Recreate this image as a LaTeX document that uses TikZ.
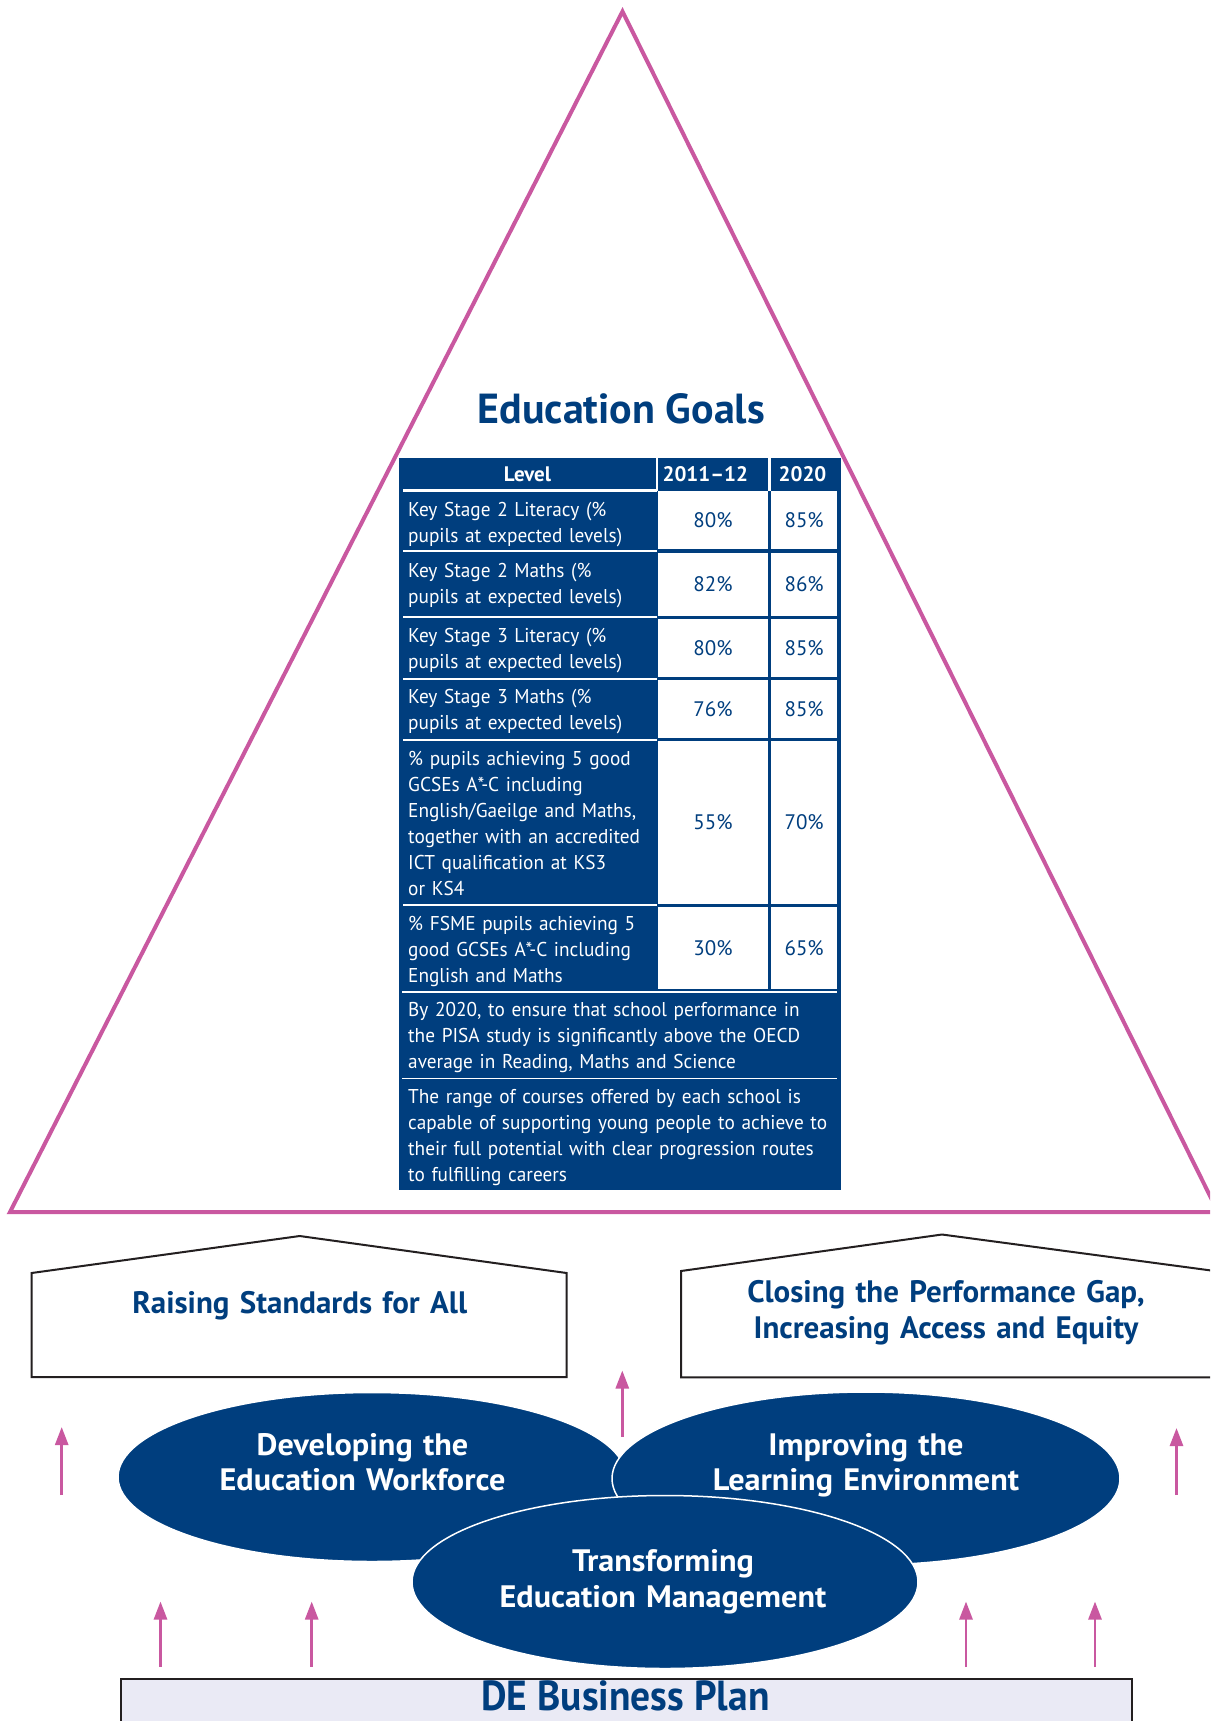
\documentclass[tikz,border=0pt]{standalone}
\usepackage{fontspec}
\setmainfont{PT Sans}
\newfontfamily\tabfont[FakeStretch=0.965]{PT Sans}
\newfontfamily\headfont{PT Sans}
\newfontfamily\ovalfont[FakeStretch=1.04]{PT Sans}
\newfontfamily\planfont[FakeStretch=0.94]{PT Sans}
\usetikzlibrary{arrows.meta,shapes.geometric}
\definecolor{deblue}{RGB}{0,62,126}
\definecolor{demag}{RGB}{201,88,160}
\definecolor{dedark}{RGB}{35,31,32}
\definecolor{delav}{RGB}{234,234,245}
\begin{document}
\begin{tikzpicture}[x=1pt,y=-1pt,
  tri/.style={draw=demag,line width=4pt,line join=miter},
  house/.style={draw=dedark,line width=2pt,fill=white},
  oval/.style={ellipse,fill=deblue,draw=white,line width=1.5pt,inner sep=0pt,outer sep=0pt},
  upar/.style={draw=demag,line width=2.7pt,-{Triangle[width=13pt,length=18pt]}},
  lbl/.style={text=white,font=\tabfont\fontsize{20}{26}\selectfont,anchor=base west,inner sep=0pt,align=left,text width=440pt},
  cell/.style={fill=white,text=deblue,font=\headfont\fontsize{21}{26}\selectfont,inner sep=0pt,outer sep=0pt},
  hdr/.style={text=white,font=\headfont\bfseries\fontsize{21}{24}\selectfont,inner sep=0pt},
  sepl/.style={draw=white,line width=2.2pt},
  htext/.style={text=deblue,font=\headfont\bfseries\fontsize{31}{35.6}\selectfont,anchor=base,inner sep=0pt,align=center,text width=600pt},
  otext/.style={text=white,font=\ovalfont\bfseries\fontsize{31}{35.5}\selectfont,anchor=base,inner sep=0pt,align=center,text width=500pt}
]
\useasboundingbox (0,0) rectangle (1210,1721);
\clip (0,0) rectangle (1210,1721);
\fill[white] (0,0) rectangle (1210,1721);

% pyramid
\coordinate (apex) at (622.5,11.5);
\coordinate (bl) at (10,1212);
\coordinate (br) at (1218,1212);
\draw[tri] (apex) -- (bl) -- (br) -- cycle;
\node[text=deblue,font=\headfont\bfseries\fontsize{42}{50}\selectfont,anchor=base,inner sep=0pt] (title) at (621.4,423.3) {Education Goals};

% table background
\fill[deblue] (399,458) rectangle (841,1190);
% header
\draw[sepl,line width=2pt] (656.7,458) -- (656.7,490.5);
\draw[sepl,line width=2.7pt] (769.6,458) -- (769.6,490.5);
\draw[sepl] (403.3,490.5) -- (656.7,490.5);
\node[hdr] (hlevel) at (527.5,474) {Level};
\node[hdr] (hyear) at (705.3,474) {2011–12};
\node[hdr] (htarget) at (802.5,474) {2020};
% label separators
\draw[sepl] (403.3,551.2) -- (656.7,551.2);
\draw[sepl] (403.3,617) -- (656.7,617);
\draw[sepl] (403.3,678.7) -- (656.7,678.7);
\draw[sepl] (403.3,740) -- (656.7,740);
\draw[sepl] (403.3,904.7) -- (656.7,904.7);
\draw[sepl,line width=1.8pt] (402,991.8) -- (837.3,991.8);
\draw[sepl,line width=1.8pt] (402,1078.5) -- (837.3,1078.5);

% data cells
\node[cell,minimum width=110.6pt,minimum height=58.3pt] (c11) at (713,520.15) {80\%};
\node[cell,minimum width=66.3pt,minimum height=58.3pt] (c12) at (804.15,520.15) {85\%};
\node[cell,minimum width=110.6pt,minimum height=63pt] (c21) at (713,584.2) {82\%};
\node[cell,minimum width=66.3pt,minimum height=63pt] (c22) at (804.15,584.2) {86\%};
\node[cell,minimum width=110.6pt,minimum height=58.3pt] (c31) at (713,648.15) {80\%};
\node[cell,minimum width=66.3pt,minimum height=58.3pt] (c32) at (804.15,648.15) {85\%};
\node[cell,minimum width=110.6pt,minimum height=57.5pt] (c41) at (713,708.75) {76\%};
\node[cell,minimum width=66.3pt,minimum height=57.5pt] (c42) at (804.15,708.75) {85\%};
\node[cell,minimum width=110.6pt,minimum height=163pt] (c51) at (713,822.5) {55\%};
\node[cell,minimum width=66.3pt,minimum height=163pt] (c52) at (804.15,822.5) {70\%};
\node[cell,minimum width=110.6pt,minimum height=82.6pt] (c61) at (713,948) {30\%};
\node[cell,minimum width=66.3pt,minimum height=82.6pt] (c62) at (804.15,948) {65\%};

% labels
\node[lbl] (l1) at (408,516) {Key Stage 2 Literacy (\%\\pupils at expected levels)};
\node[lbl] (l2) at (408,577) {Key Stage 2 Maths (\%\\pupils at expected levels)};
\node[lbl] (l3) at (408,642.7) {Key Stage 3 Literacy (\%\\pupils at expected levels)};
\node[lbl] (l4) at (408,703.3) {Key Stage 3 Maths (\%\\pupils at expected levels)};
\node[lbl] (l5) at (408,765) {\% pupils achieving 5 good\\GCSEs A*-C including\\English/Gaeilge and Maths,\\together with an accredited\\ICT qualification at KS3\\or KS4};
\node[lbl] (l6) at (408,930) {\% FSME pupils achieving 5\\good GCSEs A*-C including\\English and Maths};
\node[lbl] (l7) at (408,1016) {By 2020, to ensure that school performance in\\the PISA study is significantly above the OECD\\average in Reading, Maths and Science};
\node[lbl] (l8) at (408,1103) {The range of courses offered by each school is\\capable of supporting young people to achieve to\\their full potential with clear progression routes\\to fulfilling careers};

% houses
\draw[house] (31.6,1377) -- (31.6,1273) -- (299.7,1236) -- (566.6,1273) -- (566.6,1377) -- cycle;
\draw[house] (681,1377.3) -- (681,1271) -- (942,1234.5) -- (1215,1271) -- (1215,1377.3) -- cycle;
\node[htext] (raise) at (299.7,1313.3) {Raising Standards for All};
\node[htext] (close) at (946,1302.7) {Closing the Performance Gap,\\Increasing Access and Equity};

% arrows
\coordinate (a1s) at (61.7,1495);   \coordinate (a1e) at (61.7,1427);
\coordinate (a2s) at (622.3,1436.5); \coordinate (a2e) at (622.3,1370.5);
\coordinate (a3s) at (1176.5,1495); \coordinate (a3e) at (1176.5,1428);
\coordinate (a4s) at (160.5,1666.7); \coordinate (a4e) at (160.5,1601.5);
\coordinate (a5s) at (311.7,1666.7); \coordinate (a5e) at (311.7,1601.5);
\coordinate (a6s) at (966,1667);    \coordinate (a6e) at (966,1601.5);
\coordinate (a7s) at (1095,1667);   \coordinate (a7e) at (1095,1601.5);
\foreach \i in {1,...,7} { \draw[upar] (a\i s) -- (a\i e); }

% ellipses
\node[oval,minimum width=508pt,minimum height=169pt] (dev) at (372,1477) {};
\node[oval,minimum width=508pt,minimum height=173pt] (imp) at (866,1478.5) {};
\node[oval,minimum width=506pt,minimum height=173pt] (trn) at (665,1582) {};
\node[otext] (devt) at (362.5,1455) {Developing the\\Education Workforce};
\node[otext] (impt) at (866,1455) {Improving the\\Learning Environment};
\node[otext] (trnt) at (663,1571.7) {Transforming\\Education Management};

% business plan
\node[draw=dedark,fill=delav,line width=2.5pt,minimum width=1011pt,minimum height=80pt,inner sep=0pt,anchor=north west] (plan) at (119.6,1677.5) {};
\node[text=deblue,font=\planfont\bfseries\fontsize{42}{50}\selectfont,anchor=base,inner sep=0pt] (plant) at (625.5,1710) {DE Business Plan};
\end{tikzpicture}
\end{document}
